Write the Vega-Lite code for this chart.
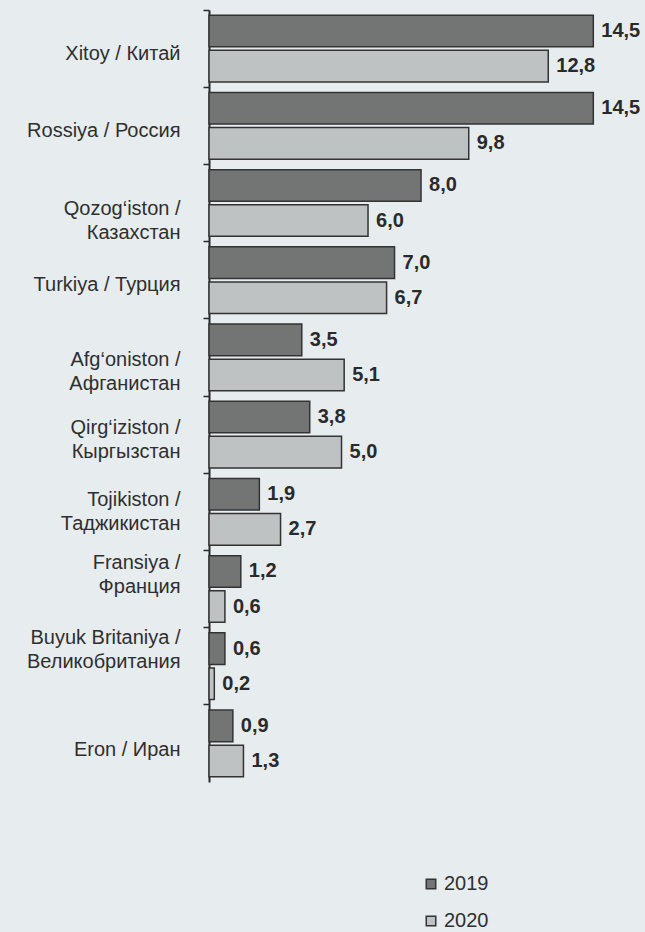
{
  "$schema": "https://vega.github.io/schema/vega-lite/v6.json",
  "autosize": {"type": "none"},
  "padding": {"left": 209, "top": 10, "right": 0, "bottom": 150},
  "width": 436,
  "height": 772,
  "background": "#e7ecef",
  "config": {
    "view": {"stroke": null},
    "font": "Liberation Sans",
    "locale": {"number": {"decimal": ",", "thousands": " ", "grouping": [3], "currency": ["", ""]}}
  },
  "data": {
    "values": [
      {"country": "Xitoy / Китай", "year": "2019", "value": 14.5},
      {"country": "Xitoy / Китай", "year": "2020", "value": 12.8},
      {"country": "Rossiya / Россия", "year": "2019", "value": 14.5},
      {"country": "Rossiya / Россия", "year": "2020", "value": 9.8},
      {"country": "Qozog‘iston /|Казахстан", "year": "2019", "value": 8.0},
      {"country": "Qozog‘iston /|Казахстан", "year": "2020", "value": 6.0},
      {"country": "Turkiya / Турция", "year": "2019", "value": 7.0},
      {"country": "Turkiya / Турция", "year": "2020", "value": 6.7},
      {"country": "Afg‘oniston /|Афганистан", "year": "2019", "value": 3.5},
      {"country": "Afg‘oniston /|Афганистан", "year": "2020", "value": 5.1},
      {"country": "Qirg‘iziston /|Кыргызстан", "year": "2019", "value": 3.8},
      {"country": "Qirg‘iziston /|Кыргызстан", "year": "2020", "value": 5.0},
      {"country": "Tojikiston /|Таджикистан", "year": "2019", "value": 1.9},
      {"country": "Tojikiston /|Таджикистан", "year": "2020", "value": 2.7},
      {"country": "Fransiya /|Франция", "year": "2019", "value": 1.2},
      {"country": "Fransiya /|Франция", "year": "2020", "value": 0.6},
      {"country": "Buyuk Britaniya /|Великобритания", "year": "2019", "value": 0.6},
      {"country": "Buyuk Britaniya /|Великобритания", "year": "2020", "value": 0.2},
      {"country": "Eron / Иран", "year": "2019", "value": 0.9},
      {"country": "Eron / Иран", "year": "2020", "value": 1.3}
    ]
  },
  "layer": [
    {
      "mark": {"type": "bar", "stroke": "#333333", "strokeWidth": 1.5},
      "encoding": {
        "y": {
          "field": "country", "type": "nominal", "sort": null,
          "scale": {"paddingInner": 0, "paddingOuter": 0},
          "axis": {
            "title": null, "orient": "left",
            "domain": true, "domainColor": "#2a2a2a", "domainWidth": 2,
            "ticks": false,
            "labelExpr": "split(datum.label, '|')",
            "labelFont": "Liberation Sans", "labelFontSize": 20, "labelColor": "#2f2f2f",
            "labelLineHeight": 24, "labelPadding": 29, "labelLimit": 300,
            "labelOffset": {
              "condition": [
                {"test": "indexof(datum.value, 'Qozog') >= 0", "value": 6},
                {"test": "indexof(datum.value, 'Afg') >= 0", "value": 3},
                {"test": "indexof(datum.value, 'Qirg') >= 0", "value": -7},
                {"test": "indexof(datum.value, 'Tojik') >= 0", "value": -12},
                {"test": "indexof(datum.value, 'Fransiya') >= 0", "value": -26},
                {"test": "indexof(datum.value, 'Buyuk') >= 0", "value": -28},
                {"test": "indexof(datum.value, 'Eron') >= 0", "value": 7}
              ],
              "value": 5
            }
          }
        },
        "yOffset": {"field": "year", "type": "nominal", "scale": {"paddingInner": 0.1, "paddingOuter": 0.15}},
        "x": {"field": "value", "type": "quantitative", "scale": {"domain": [0, 16.45], "nice": false}, "axis": null},
        "color": {
          "field": "year", "type": "nominal",
          "scale": {"domain": ["2019", "2020"], "range": ["#737575", "#bfc2c2"]},
          "legend": {
            "title": null, "orient": "none", "legendX": 212, "legendY": 864,
            "symbolType": "square", "symbolSize": 90, "symbolStrokeColor": "#333333", "symbolStrokeWidth": 1.5,
            "labelFont": "Liberation Sans", "labelFontSize": 20, "labelColor": "#2f2f2f", "rowPadding": 17, "labelOffset": 3
          }
        }
      }
    },
    {
      "mark": {"type": "text", "align": "left", "baseline": "middle", "dx": 8, "fontWeight": "bold", "fontSize": 20, "font": "Liberation Sans", "color": "#2a2a2a"},
      "encoding": {
        "y": {
          "field": "country", "type": "nominal", "sort": null,
          "axis": {"title": null, "orient": "left", "labels": false, "domain": false, "ticks": true, "tickSize": 6, "tickColor": "#2a2a2a", "tickWidth": 1.5, "bandPosition": 0}
        },
        "yOffset": {"field": "year", "type": "nominal"},
        "x": {"field": "value", "type": "quantitative"},
        "text": {"field": "value", "type": "quantitative", "format": ".1f"}
      }
    }
  ],
  "resolve": {"axis": {"y": "independent"}}
}
